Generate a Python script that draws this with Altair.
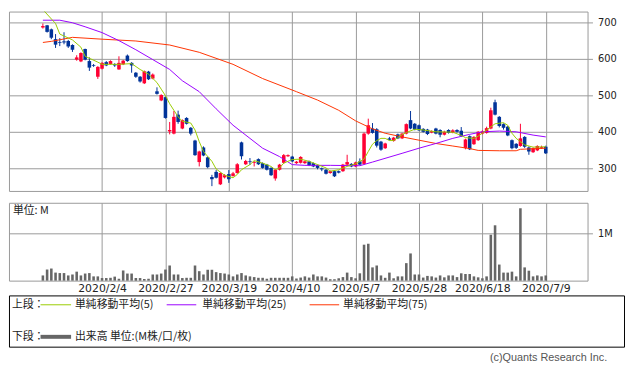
import json
import altair as alt
import pandas as pd

# ---- daily candles (trading-day index 0 = 2020/1/15 ... 119 = 2020/7/9) ----
opens = [686, 692, 681, 654, 646, 648, 649, 638, 598, 593, 627, 594, 583, 551, 573, 591, 586, 586, 571, 585,
         609, 589, 562, 551, 533, 565, 546, 511, 486, 495, 401, 395, 447, 409, 438, 411, 376, 317, 357, 330,
         276, 290, 256, 275, 284, 279, 287, 371, 311, 319, 315, 325, 314, 310, 301, 272, 296, 315, 333, 332,
         314, 315, 314, 319, 314, 308, 300, 296, 287, 292, 292, 292, 310, 312, 305, 319, 312, 395, 409, 407,
         373, 355, 382, 375, 393, 382, 395, 432, 422, 418, 408, 406, 398, 409, 405, 392, 405, 398, 405, 403,
         355, 388, 366, 377, 395, 397, 409, 481, 441, 421, 414, 377, 367, 361, 386, 357, 344, 349, 355, 359]
highs = [697, 693, 683, 668, 657, 673, 652, 640, 610, 618, 628, 604, 586, 580, 591, 594, 596, 588, 607, 597,
         612, 591, 564, 553, 568, 567, 560, 522, 503, 497, 427, 457, 458, 434, 440, 413, 378, 348, 360, 332,
         282, 295, 289, 284, 295, 290, 314, 373, 323, 328, 320, 327, 316, 312, 303, 298, 312, 339, 338, 334,
         320, 333, 321, 321, 316, 310, 302, 298, 294, 294, 294, 312, 337, 314, 318, 327, 398, 436, 424, 410,
         375, 370, 386, 386, 395, 397, 423, 457, 424, 420, 410, 408, 404, 411, 407, 403, 407, 407, 407, 413,
         381, 390, 388, 402, 404, 414, 466, 488, 443, 423, 416, 379, 369, 422, 388, 360, 357, 363, 362, 362]
lows = [683, 672, 654, 630, 635, 640, 630, 619, 595, 591, 596, 567, 578, 545, 571, 580, 584, 578, 570, 583,
        592, 562, 548, 535, 531, 542, 544, 502, 484, 436, 393, 393, 422, 407, 420, 390, 334, 305, 333, 300,
        251, 272, 254, 272, 260, 277, 285, 324, 309, 309, 305, 309, 299, 294, 279, 266, 294, 313, 331, 317,
        312, 313, 312, 306, 303, 297, 292, 283, 285, 276, 286, 290, 308, 303, 303, 308, 310, 392, 395, 357,
        348, 353, 376, 373, 380, 380, 393, 407, 404, 402, 398, 391, 396, 393, 385, 390, 395, 396, 398, 386,
        352, 350, 364, 375, 393, 395, 407, 445, 412, 406, 388, 352, 353, 359, 356, 337, 342, 347, 353, 339]
closes = [690, 674, 658, 639, 644, 645, 634, 625, 604, 616, 598, 576, 581, 578, 589, 582, 594, 582, 589, 595,
          594, 582, 551, 538, 566, 544, 557, 504, 501, 438, 405, 441, 427, 432, 422, 395, 336, 346, 335, 303,
          270, 274, 287, 281, 270, 286, 311, 333, 320, 317, 317, 311, 301, 296, 281, 296, 310, 336, 336, 319,
          318, 331, 319, 308, 305, 301, 297, 285, 292, 278, 288, 310, 317, 305, 316, 310, 395, 418, 397, 362,
          351, 368, 378, 384, 382, 395, 421, 409, 406, 404, 400, 394, 402, 395, 392, 400, 397, 404, 400, 388,
          379, 352, 386, 400, 401, 410, 459, 447, 416, 411, 390, 355, 356, 382, 359, 346, 355, 361, 358, 341]
volumes = [0.11, 0.235, 0.256, 0.17, 0.16, 0.16, 0.11, 0.13, 0.19, 0.11, 0.15, 0.16, 0.09, 0.09, 0.055, 0.055,
           0.06, 0.085, 0.04, 0.215, 0.15, 0.15, 0.055, 0.055, 0.035, 0.04, 0.13, 0.13, 0.15, 0.235, 0.32, 0.13,
           0.13, 0.055, 0.06, 0.06, 0.32, 0.2, 0.13, 0.23, 0.23, 0.18, 0.16, 0.15, 0.13, 0.09, 0.13, 0.16, 0.11,
           0.09, 0.075, 0.06, 0.06, 0.04, 0.06, 0.06, 0.06, 0.06, 0.06, 0.09, 0.045, 0.065, 0.09, 0.065, 0.13,
           0.09, 0.09, 0.065, 0.03, 0.03, 0.05, 0.075, 0.17, 0.075, 0.05, 0.155, 0.76, 0.78, 0.28, 0.32, 0.11,
           0.06, 0.17, 0.05, 0.09, 0.09, 0.37, 0.575, 0.13, 0.13, 0.065, 0.1, 0.09, 0.065, 0.11, 0.07, 0.11,
           0.11, 0.075, 0.155, 0.14, 0.14, 0.09, 0.07, 0.05, 0.09, 0.97, 1.17, 0.34, 0.17, 0.17, 0.19, 0.09,
           1.53, 0.28, 0.21, 0.09, 0.11, 0.09, 0.11]

tick_days = [14, 29, 44, 59, 74, 89, 104, 119]
tick_labels = ["2020/2/4", "2020/2/27", "2020/3/19", "2020/4/10", "2020/5/7",
               "2020/5/28", "2020/6/18", "2020/7/9"]

# ---- moving averages ----
ma5_days = [0, 3, 4, 7, 9, 10, 13, 14, 18, 21, 23, 25, 27, 28, 29, 30, 31, 32, 33, 35, 36, 37, 38, 40, 41,
            43, 45, 46, 47, 49, 50, 52, 54, 55, 56, 57, 59, 61, 63, 65, 67, 68, 70, 72, 74, 76, 77, 78, 79,
            80, 81, 82, 83, 84, 85, 86, 88, 90, 93, 97, 99, 100, 102, 103, 105, 107, 109, 110, 111, 112,
            114, 116, 119]
ma5_vals = [735, 697, 668, 652, 632, 607, 591, 585, 585, 587, 571, 558, 535, 517, 499, 477, 459, 441, 429,
            424, 405, 373, 346, 319, 298, 281, 274, 283, 296, 310, 321, 314, 305, 296, 301, 314, 324, 325,
            319, 310, 301, 292, 296, 305, 312, 325, 346, 366, 376, 382, 382, 376, 376, 384, 392, 398, 407,
            405, 400, 399, 390, 384, 382, 388, 405, 422, 425, 418, 396, 382, 364, 358, 359]
ma25_days = [0, 4, 7, 10, 14, 18, 22, 26, 30, 33, 37, 41, 45, 49, 52, 56, 59, 62, 68, 75, 78, 85, 89, 93,
             97, 101, 104, 108, 112, 116, 119]
ma25_vals = [706, 706, 699, 688, 672, 650, 625, 598, 571, 540, 510, 463, 418, 382, 355, 332, 310, 308, 308,
             307, 317, 341, 355, 368, 382, 393, 400, 402, 400, 391, 386]
ma75_days = [0, 2, 7, 14, 22, 30, 37, 45, 52, 60, 65, 70, 74, 78, 81, 85, 89, 93, 97, 101, 103, 108, 112,
             113, 119]
ma75_vals = [645, 648, 659, 654, 649, 638, 618, 585, 546, 510, 487, 459, 430, 408, 396, 386, 377, 368, 361,
             354, 349, 348, 348, 352, 355]

legend_names = ["単純移動平均(5)", "単純移動平均(25)", "単純移動平均(75)"]
legend_colors = ["#99CC00", "#9900FF", "#FF3300"]
volume_legend = "出来高 単位:(M株/口/枚)"

RED = "#FF0033"
BLUE = "#003399"
GRID = "#999999"
JP = "Noto Sans CJK JP"
X_DOMAIN = [-6.855, 127.72]
PRICE_DOMAIN = [237.8, 729.7]
VOL_DOMAIN = [0, 1.646]

days = list(range(len(closes)))
candles = pd.DataFrame({"day": days, "open": opens, "high": highs, "low": lows,
                        "close": closes, "vol": volumes})
candles["dir"] = ["up" if c >= o else "down" for o, c in zip(opens, closes)]

xscale = alt.Scale(domain=X_DOMAIN, nice=False, zero=False)
x_upper = alt.X("day:Q", scale=xscale,
                axis=alt.Axis(values=tick_days, labels=False, ticks=False, domain=False, grid=True,
                              gridColor=GRID, title=None))


def y_price(field):
    return alt.Y(f"{field}:Q", scale=alt.Scale(domain=PRICE_DOMAIN, nice=False, zero=False),
                 axis=alt.Axis(orient="right", values=[300, 400, 500, 600, 700], grid=True,
                               gridColor=GRID, tickColor=GRID, tickSize=5, labelPadding=5,
                               domain=False, title=None))


color = alt.Color("dir:N", scale=alt.Scale(domain=["up", "down"], range=[RED, BLUE]), legend=None)

base = alt.Chart(candles)
wicks = base.mark_rule(strokeWidth=1).encode(x=x_upper, y=y_price("low"), y2="high:Q", color=color)
bodies = base.mark_bar(size=3.6).encode(x=x_upper, y=y_price("open"), y2="close:Q", color=color)


def ma_line(d, v, col):
    df = pd.DataFrame({"day": d, "ma": v})
    return alt.Chart(df).mark_line(color=col, strokeWidth=1, clip=True).encode(x=x_upper, y=y_price("ma"))


upper = alt.layer(
    wicks, bodies,
    ma_line(ma75_days, ma75_vals, legend_colors[2]),
    ma_line(ma25_days, ma25_vals, legend_colors[1]),
    ma_line(ma5_days, ma5_vals, legend_colors[0]),
).properties(width=587, height=182)

label_expr = json.dumps(tick_labels) + "[round((datum.value - 14) / 15)]"
x_lower = alt.X("day:Q", scale=xscale,
                axis=alt.Axis(values=tick_days, labelExpr=label_expr, ticks=False, domain=False, grid=True,
                              gridColor=GRID, labelPadding=2, labelFontSize=11, labelOverlap=False,
                              title=None))
vol = alt.Chart(candles).mark_bar(size=2.6, color="#666666").encode(
    x=x_lower,
    y=alt.Y("vol:Q", scale=alt.Scale(domain=VOL_DOMAIN, nice=False),
            axis=alt.Axis(orient="right", values=[1], labelExpr="'1M'", grid=True, gridColor=GRID,
                          tickColor=GRID, tickSize=5, labelPadding=5, domain=False, title=None)),
)
unit_text = alt.Chart(pd.DataFrame({"t": ["単位: M"]})).mark_text(
    align="left", baseline="middle", fontSize=11, color="#222222"
).encode(x=alt.value(4), y=alt.value(8), text="t:N")
lower = alt.layer(vol, unit_text).properties(width=587, height=79)

one = pd.DataFrame({"k": [0]})
lb = alt.Chart(one)


def ltext(s, x, y, **kw):
    opts = dict(align="left", baseline="middle", fontSize=11, color="#222222")
    opts.update(kw)
    return lb.mark_text(text=s, **opts).encode(x=alt.value(x), y=alt.value(y))


def lrule(x0, x1, y, col, w=1):
    return lb.mark_rule(color=col, strokeWidth=w).encode(x=alt.value(x0), x2=alt.value(x1), y=alt.value(y))


ROW1, ROW2 = 9.5, 42
leg_layers = [
    ltext("上段：", 3, ROW1),
    lrule(32, 63, ROW1, legend_colors[0]), ltext(legend_names[0], 67, ROW1),
    lrule(160, 190, ROW1, legend_colors[1]), ltext(legend_names[1], 196, ROW1),
    lrule(305, 335, ROW1, legend_colors[2]), ltext(legend_names[2], 339, ROW1),
    ltext("下段：", 3, ROW2),
    lrule(32, 63, ROW2, "#666666", 4), ltext(volume_legend, 67, ROW2),
    ltext("(c)Quants Research Inc.", 607, 64, align="right", font="Liberation Sans", color="#555555"),
]
legend = alt.layer(*leg_layers).properties(
    width=624, height=52, view=alt.ViewBackground(stroke="#000000", strokeWidth=1)
)

chart = (
    alt.vconcat(alt.vconcat(upper, lower, spacing=10), legend, spacing=0)
    .properties(padding=0)
    .configure_view(stroke=GRID, strokeWidth=1)
    .configure_axis(labelFont="DejaVu Sans", labelFontSize=10, labelColor="#222222")
    .configure_text(font=JP)
)

chart.save("out.html", embed_options={"renderer": "svg", "actions": False})
